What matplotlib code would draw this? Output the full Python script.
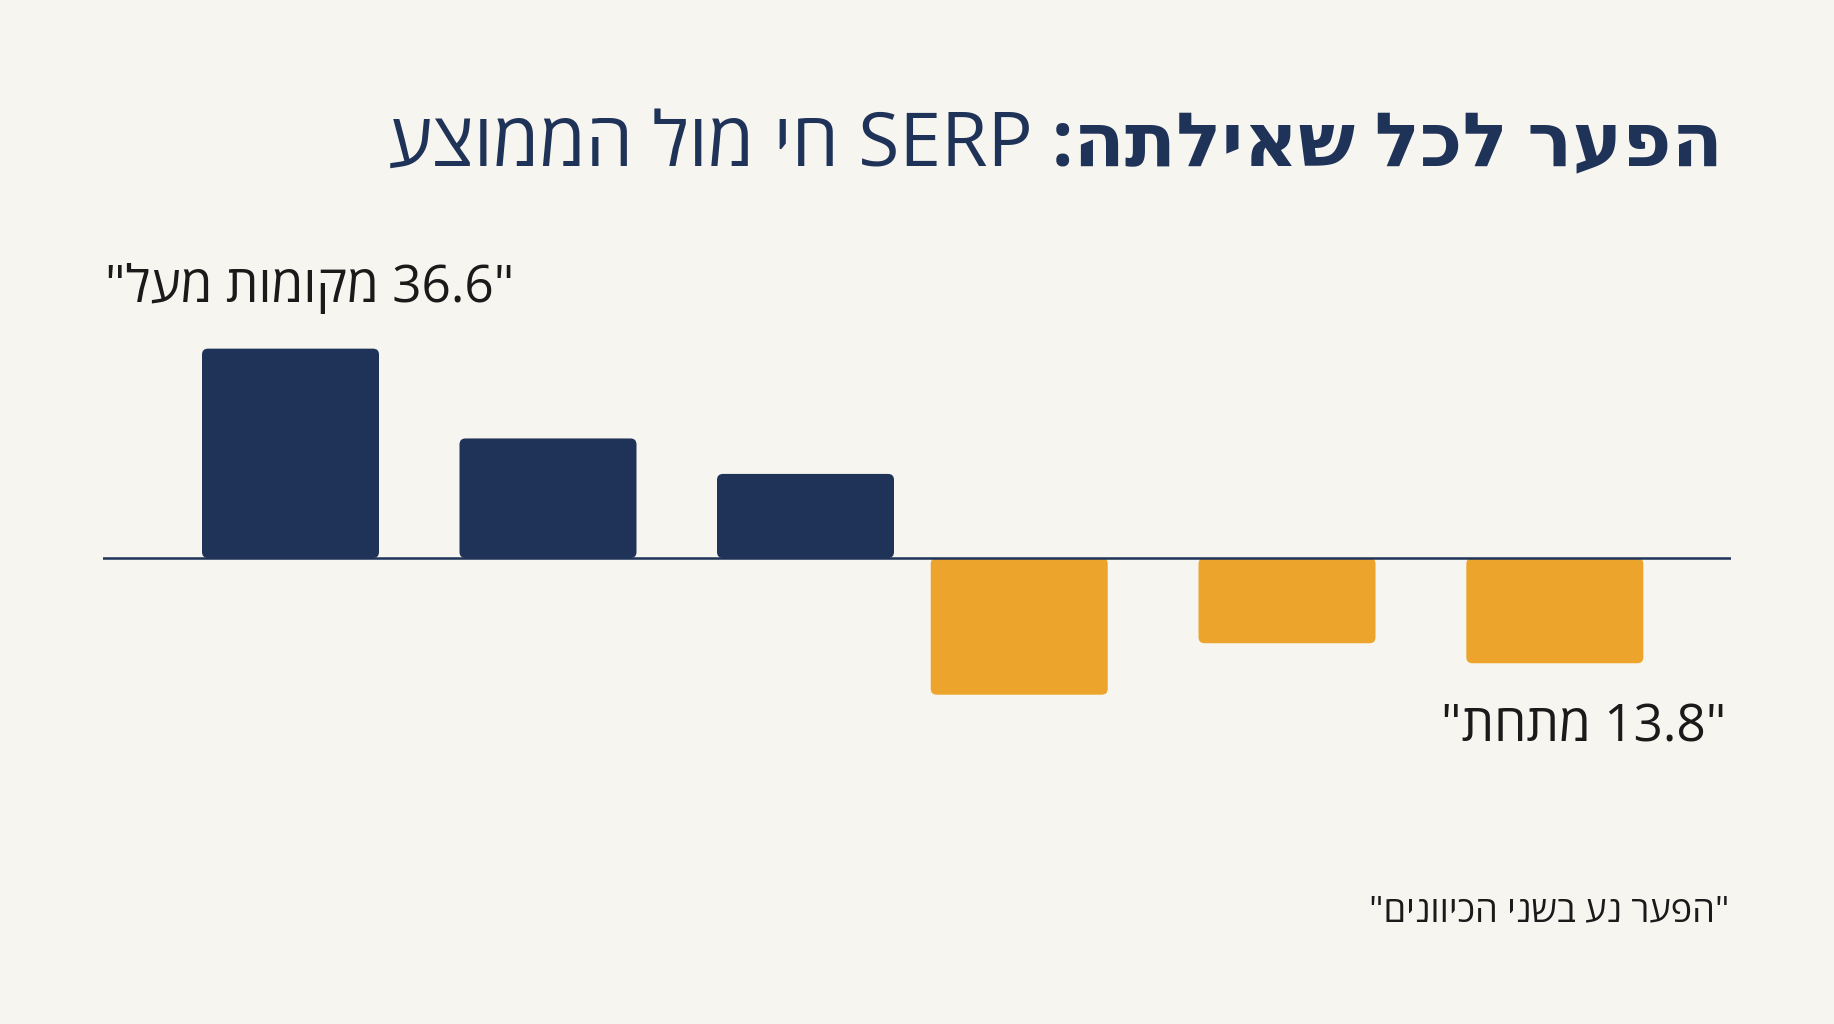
"""
Per-query gap: live SERP vs average (Hebrew, right-to-left)
"""
import matplotlib
matplotlib.use('Agg')

from matplotlib import pyplot as plt
from matplotlib.patches import FancyBboxPatch

plt.rcParams['font.family'] = ['Open Sans', 'DejaVu Sans']

# data
gap_values = [36.6, 20.9, 14.7, -23.9, -14.9, -18.4]
slot_pos = [0, 1, 2, 2.83, 3.87, 4.91]

# Hebrew strings are given in visual (left-to-right) order for matplotlib
title_bold = ':התליאש לכל רעפה'
title_regular = 'עצוממה לומ יח SERP '
label_above = '"לעמ תומוקמ 36.6"'
label_below = '"תחתמ 13.8"'
footnote = '"םינוויכה ינשב ענ רעפה"'

navy = '#1f3358'
orange = '#eca42c'
bg = '#f7f5ef'
ink = '#1a1a1a'

W, H = 1834, 1024
fig = plt.figure(figsize=(W / 100, H / 100), dpi=100)
fig.patch.set_facecolor(bg)

# plot area in pixels
ax_left, ax_right = 103, 1731
base_y = 558          # baseline, px from top
px_per_unit = 5.72    # vertical scale
ymin, ymax = -30, 40
ax_bottom = base_y - ymin * px_per_unit
ax_top = base_y - ymax * px_per_unit
ax = fig.add_axes([ax_left / W, 1 - ax_bottom / H,
                   (ax_right - ax_left) / W, (ax_bottom - ax_top) / H])
ax.set_facecolor('none')
slot_px = 257.5
ax.set_xlim(-187.5 / slot_px, (ax_right - ax_left - 187.5) / slot_px)
ax.set_ylim(ymin, ymax)
ax.axis('off')

bar_w = 177 / slot_px
radius_px = 6
aspect = slot_px / px_per_unit  # keeps the corner rounding round in pixels
for x, v in zip(slot_pos, gap_values):
    color = navy if v > 0 else orange
    y0 = min(0, v)
    p = FancyBboxPatch((x - bar_w / 2, y0), bar_w, abs(v),
                       boxstyle='round,pad=0,rounding_size=%f' % (radius_px / slot_px),
                       mutation_aspect=aspect,
                       facecolor=color, edgecolor='none', zorder=2)
    ax.add_patch(p)

ax.axhline(0, color=navy, lw=1.8, zorder=3)

# title: bold part on the right, regular part to its left
tb = fig.text(1723 / W, 1 - 146 / H, title_bold, ha='right', va='center',
              fontsize=54, fontweight='bold', color=navy)
ax.annotate(title_regular, xy=(0, 0.5), xycoords=tb, ha='right', va='center',
            fontsize=54, color=navy, annotation_clip=False)

fig.text(105 / W, 1 - 289 / H, label_above, ha='left', va='center',
         fontsize=37, color=ink)
fig.text(1726 / W, 1 - 728 / H, label_below, ha='right', va='center',
         fontsize=37, color=ink)
fig.text(1729 / W, 1 - 912 / H, footnote, ha='right', va='center',
         fontsize=26, color=ink)

plt.savefig('out.png', dpi=100, facecolor=bg)
plt.close()
